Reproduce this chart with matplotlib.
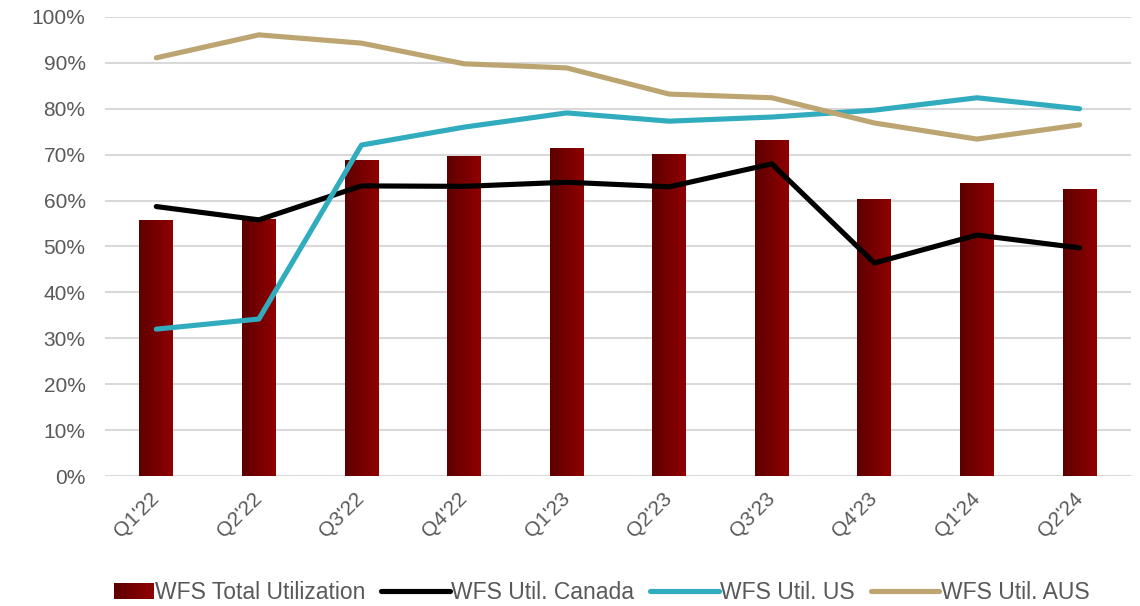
import numpy as np
import matplotlib
matplotlib.use("Agg")
import matplotlib.pyplot as plt
from matplotlib.colors import LinearSegmentedColormap
from matplotlib.legend_handler import HandlerBase
from matplotlib.patches import Rectangle
from matplotlib.lines import Line2D
from matplotlib.ticker import PercentFormatter

plt.rcParams["font.family"] = ["Liberation Sans", "DejaVu Sans"]

quarters = ["Q1'22", "Q2'22", "Q3'22", "Q4'22", "Q1'23",
            "Q2'23", "Q3'23", "Q4'23", "Q1'24", "Q2'24"]
total_util = [55.8, 56.0, 68.8, 69.7, 71.5, 70.2, 73.2, 60.3, 63.8, 62.5]
canada_util = [58.7, 55.8, 63.2, 63.1, 64.0, 63.0, 68.0, 46.4, 52.5, 49.7]
us_util = [32.0, 34.2, 72.1, 76.0, 79.1, 77.3, 78.2, 79.7, 82.4, 80.0]
aus_util = [91.1, 96.1, 94.3, 89.8, 88.9, 83.2, 82.4, 76.9, 73.4, 76.5]

bar_cmap = LinearSegmentedColormap.from_list("wfs_red", ["#5E0000", "#900000"])
text_color = "#595959"
grid_color = "#D9D9D9"


class GradientHandler(HandlerBase):
    # legend swatch: narrower gradient box, right-aligned in the handle slot
    def create_artists(self, legend, orig_handle, xdescent, ydescent,
                       width, height, fontsize, trans):
        n = 20
        w = width * 0.58
        x0 = -xdescent + width - w
        arts = []
        for i in range(n):
            r = Rectangle((x0 + w * i / n, -ydescent), w / n + 0.3, height,
                          facecolor=bar_cmap(i / (n - 1)), edgecolor="none",
                          transform=trans)
            arts.append(r)
        return arts


fig = plt.figure(figsize=(11.4, 6.06), dpi=100)
ax = fig.add_axes([0.0921, 0.2145, 0.8999, 0.7575])

x = np.arange(len(quarters))
bars = ax.bar(x, np.array(total_util) / 100, width=0.33, color="none", zorder=2)
grad = np.linspace(0, 1, 64).reshape(1, -1)
for b in bars:
    bx, by = b.get_x(), b.get_y()
    im = ax.imshow(grad, cmap=bar_cmap, aspect="auto", zorder=2,
                   extent=[bx, bx + b.get_width(), by, by + b.get_height()])
    im.set_clip_path(b)

lw = 3.7
ax.plot(x, np.array(canada_util) / 100, color="black", lw=lw, zorder=3,
        solid_capstyle="round", solid_joinstyle="round")
ax.plot(x, np.array(us_util) / 100, color="#31ACBF", lw=lw, zorder=3,
        solid_capstyle="round", solid_joinstyle="round")
ax.plot(x, np.array(aus_util) / 100, color="#BCA571", lw=lw, zorder=3,
        solid_capstyle="round", solid_joinstyle="round")

ax.set_xlim(-0.5, len(quarters) - 0.5)
ax.set_ylim(0, 1)
ax.set_yticks(np.arange(0, 1.01, 0.1))
ax.yaxis.set_major_formatter(PercentFormatter(1.0, decimals=0))
ax.grid(axis="y", color=grid_color, lw=1.5, zorder=0)
ax.set_axisbelow(True)
for s in ax.spines.values():
    s.set_visible(False)
ax.tick_params(axis="both", length=0, labelsize=15, colors=text_color)
ax.tick_params(axis="y", pad=14)
ax.set_xticks(x)
ax.set_xticklabels(quarters, rotation=45, ha="right", va="center",
                   rotation_mode="anchor")
ax.tick_params(axis="x", pad=14)

handles = [Rectangle((0, 0), 1, 1),
           Line2D([], [], color="black", lw=lw, solid_capstyle="round"),
           Line2D([], [], color="#31ACBF", lw=lw, solid_capstyle="round"),
           Line2D([], [], color="#BCA571", lw=lw, solid_capstyle="round")]
labels = ["WFS Total Utilization", "WFS Util. Canada", "WFS Util. US", "WFS Util. AUS"]
fig.legend(handles, labels, loc="lower center", bbox_to_anchor=(0.515, -0.03),
           ncol=4, frameon=False, fontsize=16.5, labelcolor=text_color,
           handlelength=3.0, handletextpad=0.05, columnspacing=0.7,
           handler_map={Rectangle: GradientHandler()})

fig.savefig("out.png", dpi=100)
